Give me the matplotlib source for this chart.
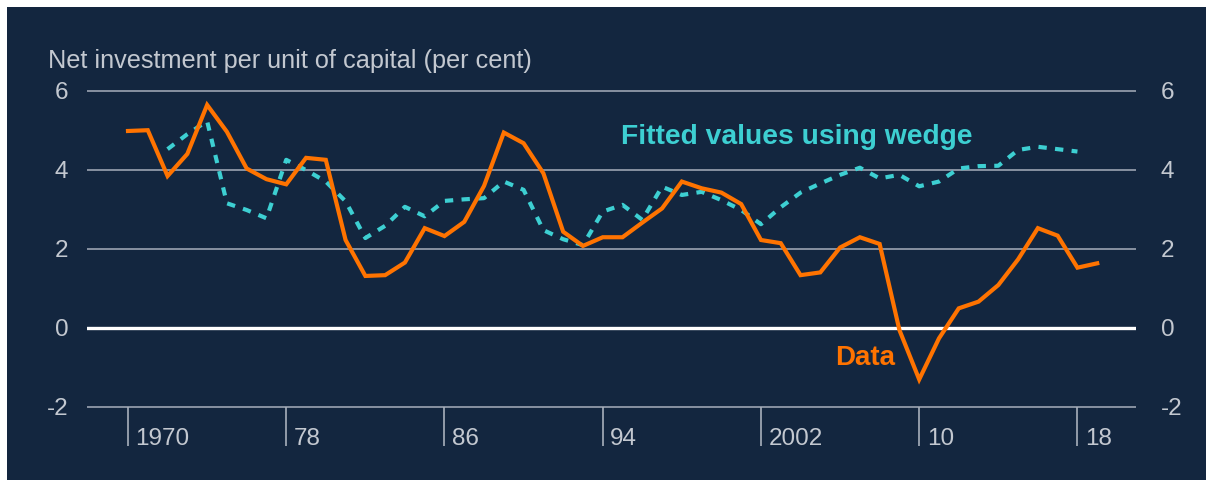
import matplotlib
matplotlib.use("Agg")
import matplotlib.pyplot as plt
from matplotlib.patches import Rectangle
from matplotlib.transforms import ScaledTranslation

# ---- data ----
data_years = list(range(1970, 2020))
data_values = [4.98, 5.00, 3.84, 4.40, 5.64, 4.96, 4.03, 3.76, 3.63, 4.30,
               4.25, 2.22, 1.31, 1.33, 1.65, 2.52, 2.32, 2.68, 3.59, 4.94,
               4.67, 3.91, 2.43, 2.07, 2.29, 2.29, 2.66, 3.02, 3.70, 3.53,
               3.42, 3.13, 2.22, 2.14, 1.33, 1.40, 2.03, 2.29, 2.12, -0.06,
               -1.31, -0.27, 0.49, 0.66, 1.08, 1.73, 2.52, 2.33, 1.52, 1.63]
fitted_years = list(range(1972, 2019))
fitted_values = [4.52, 4.90, 5.23, 3.15, 2.98, 2.77, 4.25, 3.99, 3.70, 3.20,
                 2.27, 2.58, 3.06, 2.82, 3.21, 3.25, 3.28, 3.70, 3.49, 2.47,
                 2.24, 2.09, 2.94, 3.11, 2.73, 3.57, 3.36, 3.44, 3.23, 2.98,
                 2.62, 3.05, 3.42, 3.65, 3.87, 4.05, 3.78, 3.87, 3.58, 3.70,
                 4.03, 4.09, 4.10, 4.50, 4.58, 4.52, 4.46]
tick_years = [1970, 1978, 1986, 1994, 2002, 2010, 2018]
tick_labels = ["1970", "78", "86", "94", "2002", "10", "18"]
y_ticks = [-2, 0, 2, 4, 6]
y_labels = ["-2", "0", "2", "4", "6"]

BG = "#13263f"
ORANGE = "#ff7300"
TEAL = "#3dcfd2"
TXT = "#c3c8d0"
GRID = "#a7afbb"

plt.rcParams['font.family'] = ['Liberation Sans', 'DejaVu Sans']

W, H = 1206, 480
fig = plt.figure(figsize=(W / 100, H / 100), dpi=100)
fig.patch.set_facecolor("white")
fig.patches.append(Rectangle((7 / W, 0), 1 - 7 / W, 1 - 7 / H,
                             transform=fig.transFigure, facecolor=BG,
                             edgecolor="none", zorder=-10))

# axes geometry (pixels)
x0, x1 = 87, 1136
ppu = 39.5
y_m2 = 406.7
ylo, yhi = -2.1, 6.1
ybot = y_m2 + (ylo + 2) * (-ppu)
ytop = y_m2 - (yhi + 2) * ppu
ax = fig.add_axes([x0 / W, 1 - ybot / H, (x1 - x0) / W, (ybot - ytop) / H])
ax.set_facecolor("none")
ax.set_ylim(ylo, yhi)
px_per_year = 19.78
ax.set_xlim(1970 - (128 - x0) / px_per_year, 1970 + (x1 - 128) / px_per_year)

for s in ax.spines.values():
    s.set_visible(False)
ax.spines['bottom'].set_position(('data', -2))

# horizontal gridlines
for v in y_ticks:
    if v == 0:
        ax.axhline(v, color="white", lw=2.4, zorder=2)
    else:
        ax.axhline(v, color=GRID, lw=1.1, zorder=1)

# y tick labels both sides
ax.set_yticks(y_ticks)
ax.set_yticklabels(y_labels)
ax.tick_params(axis='y', length=0, labelsize=17.5, labelcolor=TXT,
               left=False, right=False, labelleft=True, labelright=True,
               pad=13.5)
for t in ax.yaxis.get_major_ticks():
    t.label2.set_transform(t.label2.get_transform() +
                           ScaledTranslation(6 / 100, 0, fig.dpi_scale_trans))

# x ticks: minor = tick marks, major = labels offset to the right
ax.set_xticks(tick_years, minor=True)
ax.set_xticks([y + 0.38 for y in tick_years])
ax.set_xticklabels(tick_labels, ha='left')
ax.tick_params(axis='x', which='minor', length=28, width=1.2, color=GRID,
               direction='out')
ax.tick_params(axis='x', which='major', length=0, labelsize=17.5,
               labelcolor=TXT, pad=15.5)

# lines
ax.plot(fitted_years, fitted_values, color=TEAL, lw=3.0, dashes=(2.0, 2.0),
        zorder=3)
ax.plot(data_years, data_values, color=ORANGE, lw=3.0, zorder=4,
        solid_joinstyle='miter')

# texts
fig.text(48 / W, 1 - 68 / H, "Net investment per unit of capital (per cent)",
         fontsize=18.2, color=TXT, ha='left', va='baseline')
fig.text(621 / W, 1 - 144 / H, "Fitted values using wedge",
         fontsize=20.3, color=TEAL, fontweight='bold', ha='left',
         va='baseline')
fig.text(835 / W, 1 - 365 / H, "Data", fontsize=20.0, color=ORANGE,
         fontweight='bold', ha='left', va='baseline')

fig.savefig("out.png", dpi=100, facecolor=fig.get_facecolor())
